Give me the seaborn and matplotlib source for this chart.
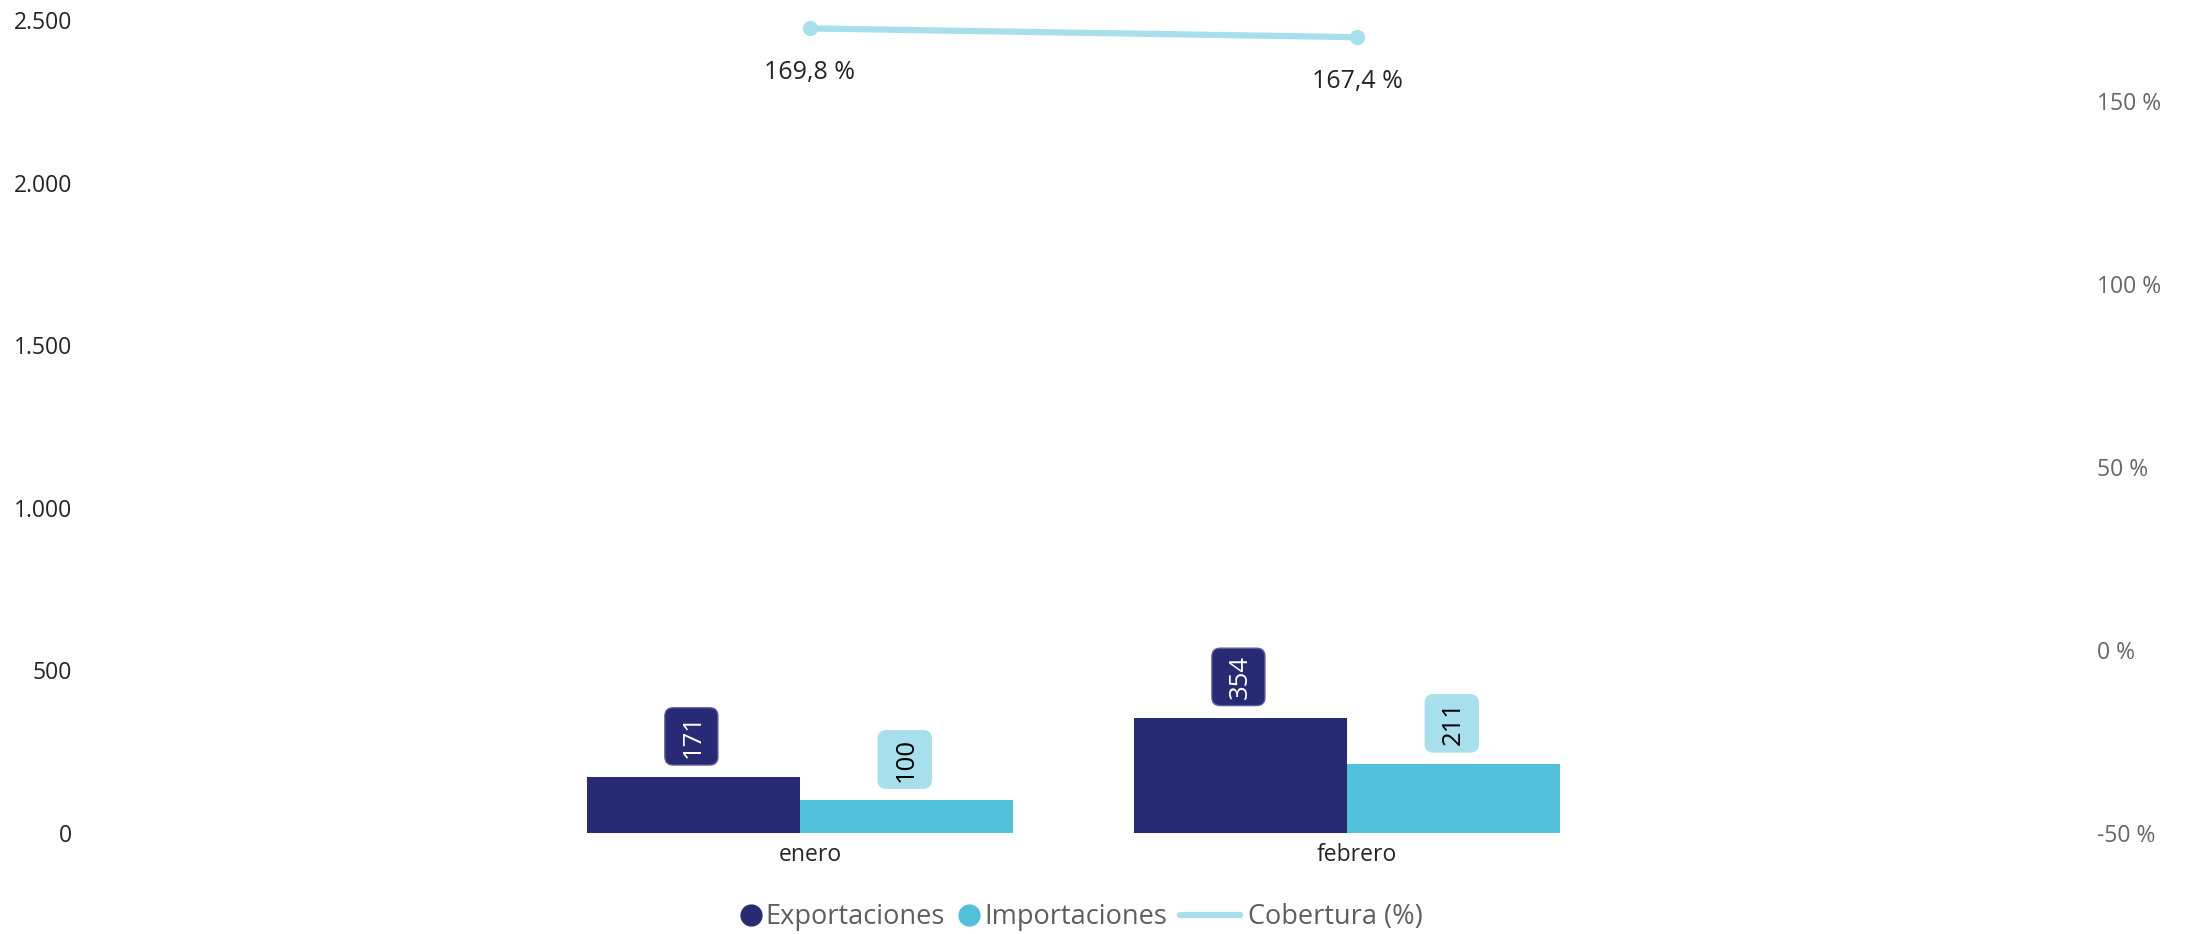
import numpy as np
import pandas as pd
import matplotlib
matplotlib.use("Agg")
import matplotlib.pyplot as plt
import seaborn as sns
from matplotlib.lines import Line2D
from matplotlib.patches import BoxStyle
from matplotlib.transforms import ScaledTranslation
from matplotlib.ticker import FuncFormatter

# ---- data ----
meses = ["enero", "febrero"]
exportaciones = [171, 354]
importaciones = [100, 211]
cobertura = [169.8, 167.4]
series = ["Exportaciones", "Importaciones"]
linea_nombre = "Cobertura (%)"
left_ticks = [0, 500, 1000, 1500, 2000, 2500]
right_ticks = [-50, 0, 50, 100, 150]

NAVY = "#282A74"
CYAN = "#53C0DB"
LIGHT = "#A8DFEC"

sns.set_theme(style="white")
plt.rcParams["font.family"] = ["Open Sans", "DejaVu Sans"]

W, H = 2195, 934
fig = plt.figure(figsize=(W / 100, H / 100), dpi=100)
ax = fig.add_axes([85 / W, 1 - 833 / H, (2062 - 85) / W, (833 - 20) / H])

df = pd.DataFrame({
    "mes": meses * 2,
    "serie": [series[0]] * len(meses) + [series[1]] * len(meses),
    "valor": exportaciones + importaciones,
})
sns.barplot(data=df, x="mes", y="valor", hue="serie", order=meses,
            hue_order=series, palette=[NAVY, CYAN], width=0.78, gap=0,
            saturation=1, errorbar=None, legend=False, ax=ax, linewidth=0)

_round = BoxStyle.Round(pad=0, rounding_size=0.32)


def label_box(x0, y0, width, height, mutation_size):
    # different padding along / across the (rotated) text
    along = 0.26 * mutation_size
    below = 0.47 * mutation_size
    above = 0.62 * mutation_size
    return _round(x0 - along, y0 - below, width + 2 * along,
                  height + below + above, mutation_size)


styles = [dict(fc=NAVY, ec="#5a5c98", tc="white"),
          dict(fc=LIGHT, ec=LIGHT, tc="black")]
for cont, st in zip(ax.containers, styles):
    for bar, val in zip(cont, cont.datavalues):
        ax.annotate(f"{val:.0f}",
                    xy=(bar.get_x() + bar.get_width() / 2, bar.get_height()),
                    xytext=(0, 41), textcoords="offset pixels",
                    ha="center", va="center", rotation=90,
                    fontsize=18.5, color=st["tc"],
                    bbox=dict(boxstyle=label_box, fc=st["fc"], ec=st["ec"], lw=1))

ax.set_ylim(0, 2500)
ax.set_yticks(left_ticks)
ax.yaxis.set_major_formatter(FuncFormatter(lambda v, p: f"{v:,.0f}".replace(",", ".")))
ax.tick_params(axis="y", length=0, pad=9.5, labelsize=16.5, labelcolor="#252423")
ax.tick_params(axis="x", length=0, pad=7, labelsize=16.5, labelcolor="#252423")
ax.set_xlabel("")
ax.set_ylabel("")
for s in ax.spines.values():
    s.set_visible(False)

# ---- line on secondary axis ----
ax2 = ax.twinx()
dfl = pd.DataFrame({"pos": np.arange(len(meses)), "cob": cobertura})
sns.lineplot(data=dfl, x="pos", y="cob", ax=ax2, color=LIGHT, lw=4.5,
             marker="o", markersize=11, markeredgewidth=0, legend=False)
shift = ScaledTranslation(10 / 100, 0, fig.dpi_scale_trans)
for ln in ax2.lines:
    ln.set_transform(ln.get_transform() + shift)
for xpos, v in zip(dfl["pos"], dfl["cob"]):
    ax2.annotate(f"{v:.1f}".replace(".", ",") + " %", xy=(xpos, v),
                 xytext=(10, -44), textcoords="offset pixels",
                 ha="center", va="center", fontsize=18, color="#252423")
ax2.set_ylim(-50, 172.1)
ax2.set_yticks(right_ticks)
ax2.yaxis.set_major_formatter(FuncFormatter(lambda v, p: f"{v:.0f} %"))
ax2.tick_params(axis="y", length=0, pad=25, labelsize=16.5, labelcolor="#666666")
ax2.set_ylabel("")
ax2.set_xlabel("")
for s in ax2.spines.values():
    s.set_visible(False)
ax2.grid(False)
ax.grid(False)

ax.set_xlim(-1.307, 2.307)
fig.canvas.draw()
for lbl in ax.get_xticklabels():
    lbl.set_transform(lbl.get_transform() + shift)

# ---- legend ----
h_bars = [Line2D([], [], ls="", marker="o", ms=15, color=c, mec=c) for c in (NAVY, CYAN)]
fig.legend(h_bars, series, loc="center left",
           bbox_to_anchor=(740 / W, 1 - 917 / H), ncol=2, frameon=False,
           fontsize=19.5, handlelength=0.8, handletextpad=0.15,
           columnspacing=0.5, borderpad=0, borderaxespad=0,
           labelcolor="#605E5C")
h_line = [Line2D([], [], color=LIGHT, lw=4.5)]
fig.legend(h_line, [linea_nombre], loc="center left",
           bbox_to_anchor=(1180 / W, 1 - 917 / H), frameon=False,
           fontsize=19.5, handlelength=2.2, handletextpad=0.3,
           borderpad=0, borderaxespad=0, labelcolor="#605E5C")

fig.savefig("out.png", dpi=100)
